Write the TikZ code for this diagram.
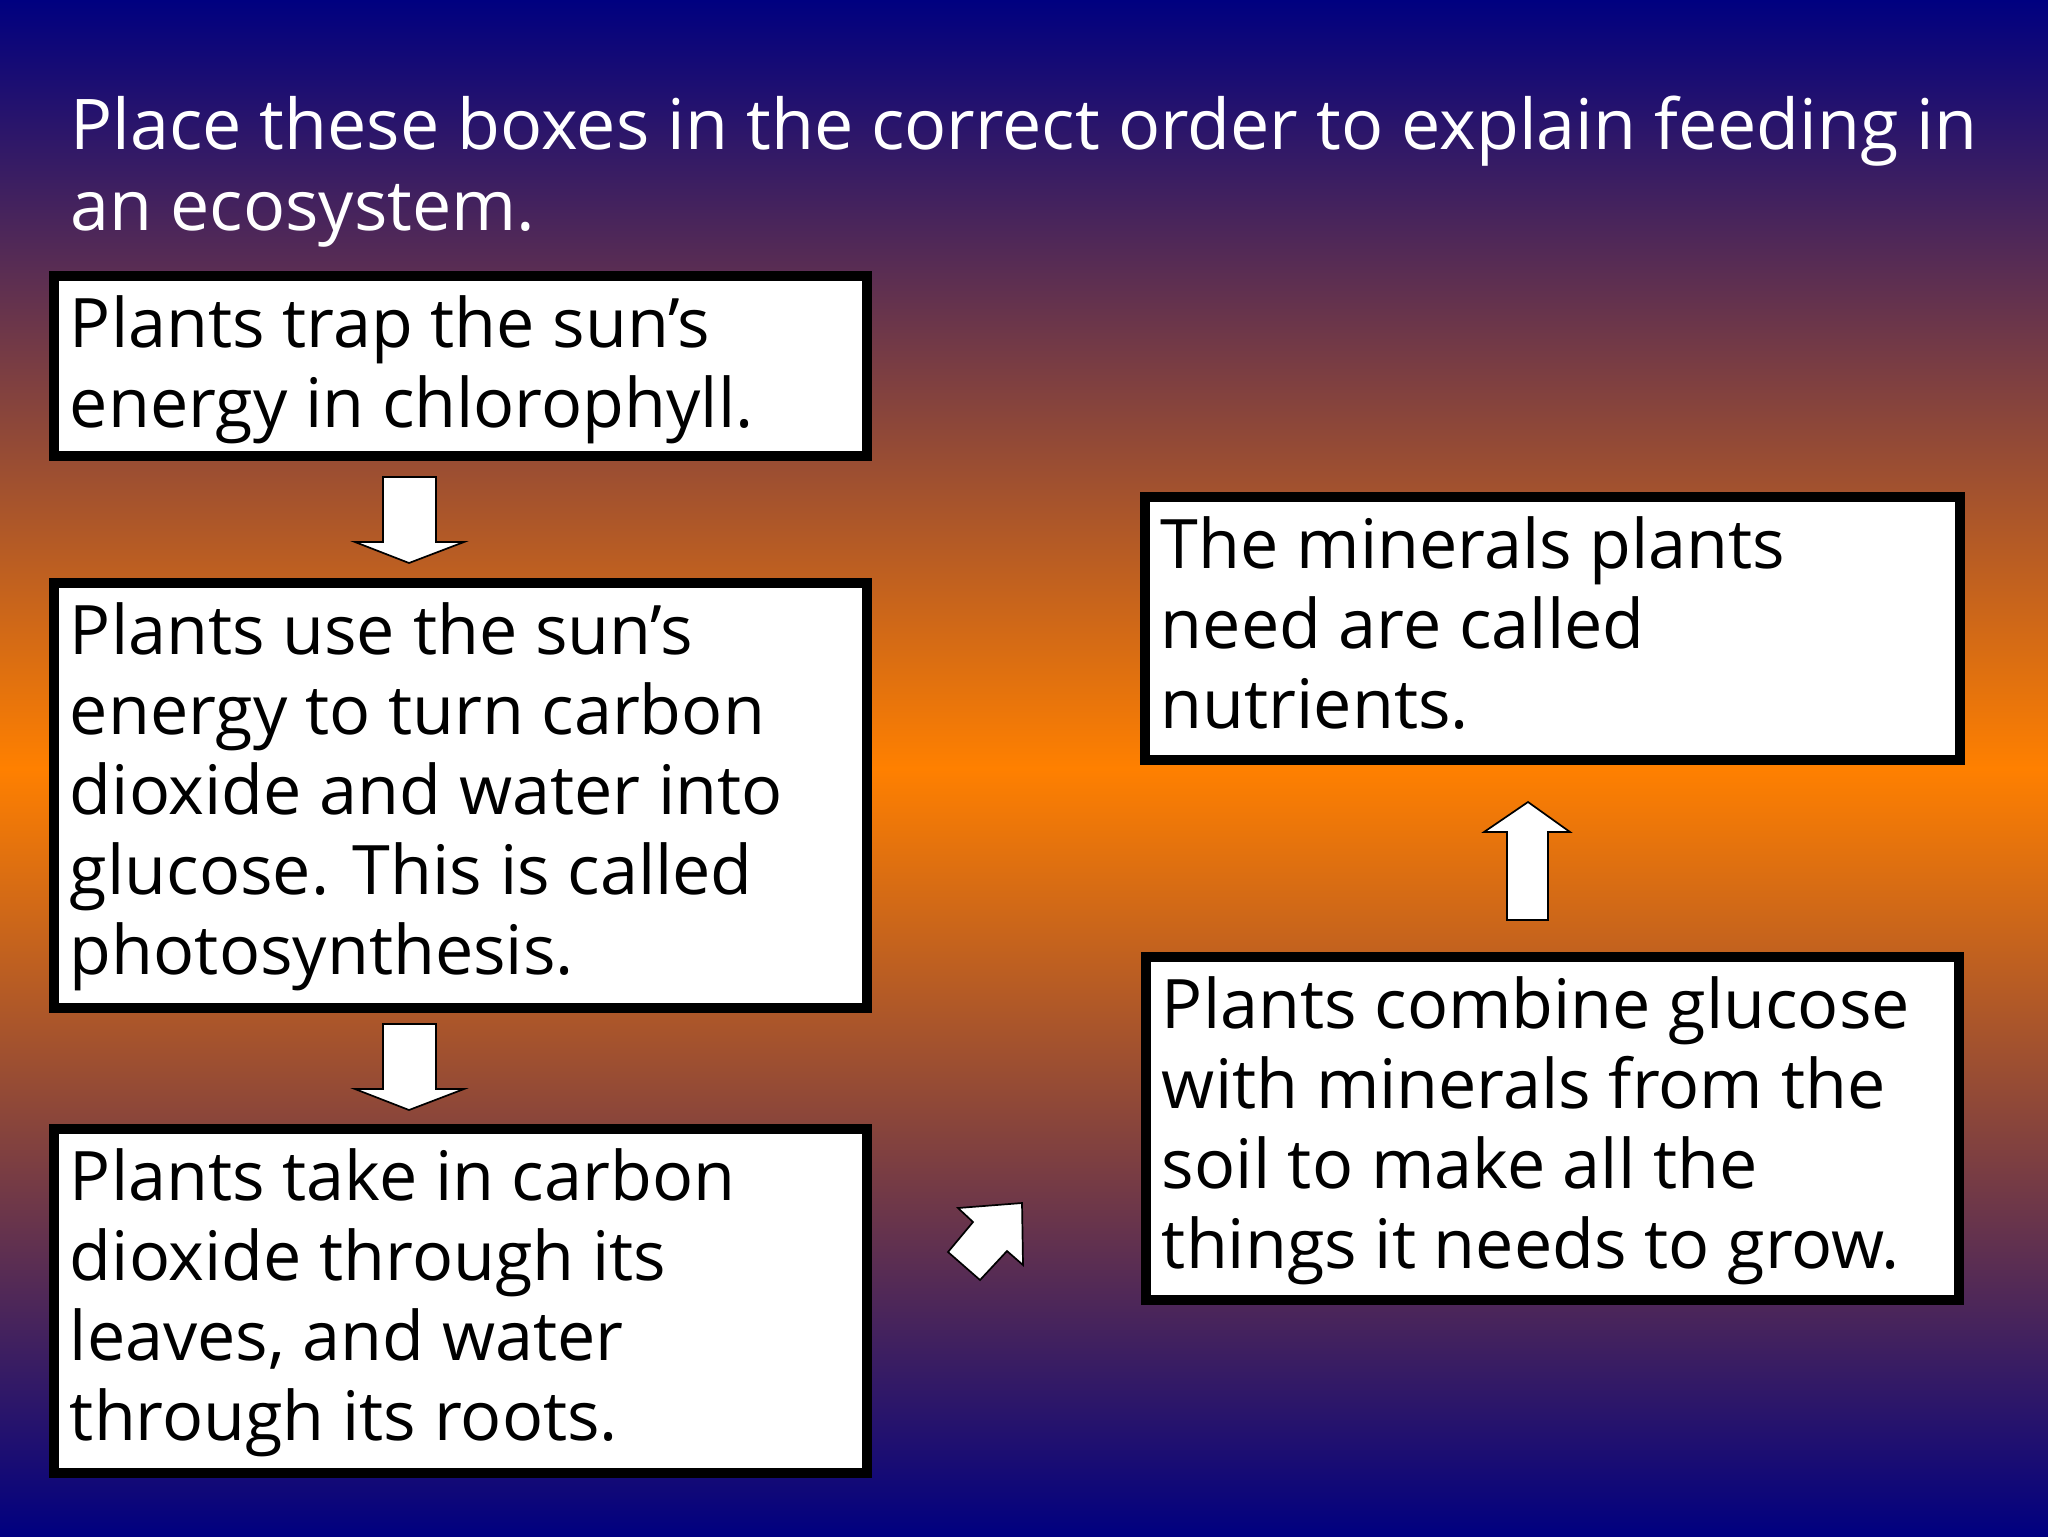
\documentclass[tikz,border=0pt]{standalone}
\usepackage{fontspec}
\setmainfont{Open Sans}
\usetikzlibrary{fit}

\definecolor{slidenavy}{RGB}{0,0,128}
\definecolor{slideorange}{RGB}{255,128,0}

\tikzset{
	box/.style={draw=black, line width=3.2pt, fill=white, inner sep=0pt},
	boxtext/.style={anchor=north west, inner sep=0pt, align=left, xshift=7pt, yshift=-8.4pt, font=\fontsize{24}{28.1}\selectfont},
	blockarrow/.style={draw=black, line width=0.6pt, fill=white, line join=miter}
}

\begin{document}
\begin{tikzpicture}[x=0.3516pt, y=-0.3516pt]
	\shade[top color=slidenavy, bottom color=slidenavy, middle color=slideorange] (0,0) rectangle (2048,1536);
	\useasboundingbox (0,0) rectangle (2048,1536);

	\node (title) [anchor=north west, inner sep=0pt, align=left, text=white, font=\fontsize{24.6}{28.5}\selectfont] at (70,95) {Place these boxes in the correct order to explain feeding in\\an ecosystem.};

	% left column
	\node (trap) [box, fit={(54,276) (867,456)}] {};
	\node (trap text) [boxtext] at (trap.north west) {Plants trap the sun’s\\energy in chlorophyll.};

	\node (use) [box, fit={(54,583) (867,1008)}] {};
	\node (use text) [boxtext] at (use.north west) {Plants use the sun’s\\energy to turn carbon\\dioxide and water into\\glucose. This is called\\photosynthesis.};

	\node (take) [box, fit={(54,1129) (867,1473)}] {};
	\node (take text) [boxtext] at (take.north west) {Plants take in carbon\\dioxide through its\\leaves, and water\\through its roots.};

	% right column
	\node (nutrients) [box, fit={(1145,497) (1960,760)}] {};
	\node (nutrients text) [boxtext] at (nutrients.north west) {The minerals plants\\need are called\\nutrients.};

	\node (combine) [box, fit={(1146,957) (1959,1300)}] {};
	\node (combine text) [boxtext] at (combine.north west) {Plants combine glucose\\with minerals from the\\soil to make all the\\things it needs to grow.};

	% block arrows
	\foreach \tipy in {563,1110}
		\draw[blockarrow, shift={(409,\tipy)}] (0,0) -- (-54,-21) -- (-26,-21) -- (-26,-86) -- (27,-86) -- (27,-21) -- (55,-21) -- cycle;

	\draw[blockarrow] (1528,802) -- (1484,832) -- (1507,832) -- (1507,920) -- (1548,920) -- (1548,832) -- (1570,832) -- cycle;

	\draw[blockarrow] (1022,1203) -- (958,1208) -- (973,1222) -- (948,1252) -- (980,1280) -- (1007,1251) -- (1023,1265) -- cycle;
\end{tikzpicture}
\end{document}
